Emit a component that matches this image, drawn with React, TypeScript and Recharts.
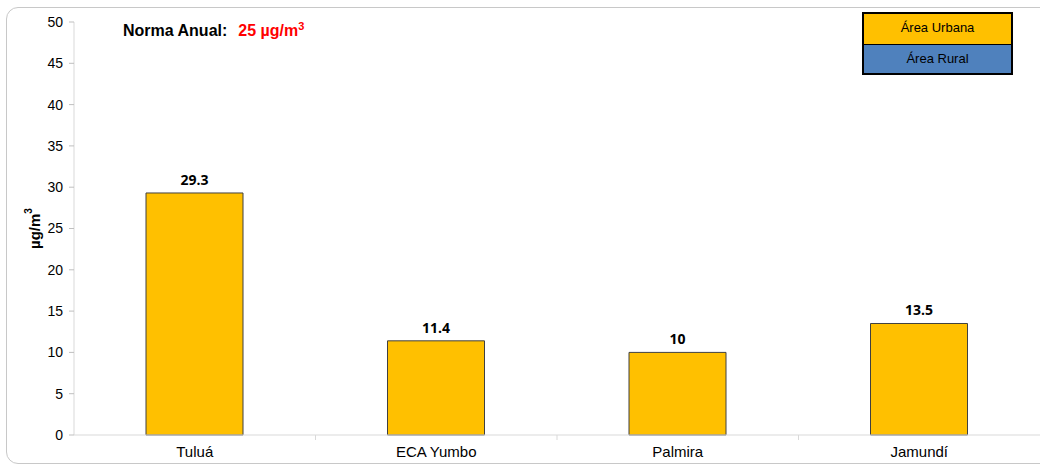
import React from 'react';
import { BarChart, Bar, XAxis, YAxis, LabelList } from 'recharts';

const categories = ['Tuluá', 'ECA Yumbo', 'Palmira', 'Jamundí'];
const values = [29.3, 11.4, 10, 13.5];
const yTicks = [0, 5, 10, 15, 20, 25, 30, 35, 40, 45, 50];
const legendLabels = ['Área Urbana', 'Área Rural'];
const legendColors = ['#FFC000', '#4F81BD'];

const data = categories.map((c, i) => ({ name: c, value: values[i] }));

const FONT = '"Liberation Sans", Arial, sans-serif';

const XTick = (props: any) => {
  const { x, y, payload, index } = props;
  const off = payload && payload.offset ? payload.offset : 0;
  return (
    <g>
      {index > 0 && (
        <line x1={x - off} x2={x - off} y1={y - 8} y2={y - 3} stroke="#d9d9d9" strokeWidth={1} />
      )}
      <text x={x} y={y + 14} textAnchor="middle" fontFamily={FONT} fontSize={15} fill="#000">
        {payload.value}
      </text>
    </g>
  );
};

const YLabel = (props: any) => {
  const vb = props.viewBox || {};
  const cx = 34;
  const cy = vb.y + vb.height / 2;
  return (
    <text
      x={cx}
      y={cy}
      transform={`rotate(-90 ${cx} ${cy})`}
      textAnchor="middle"
      dominantBaseline="central"
      fontFamily={FONT}
      fontSize={15}
      fontWeight="bold"
      fill="#000"
    >
      µg/m
      <tspan fontSize={10} dy={-6}>3</tspan>
    </text>
  );
};

export default function App() {
  return (
    <div style={{ position: 'absolute', left: 0, top: 0, width: 1040, height: 468, background: '#fff', overflow: 'hidden' }}>
      <div
        style={{
          position: 'absolute',
          left: 6,
          top: 7,
          width: 1060,
          height: 457,
          border: '1px solid #c8c8c8',
          borderRadius: 12,
          boxSizing: 'border-box',
        }}
      />
      <BarChart
        width={1040}
        height={468}
        data={data}
        margin={{ top: 22, right: 0, left: 2, bottom: 0 }}
        barCategoryGap="30%"
      >
        <XAxis
          dataKey="name"
          height={33}
          axisLine={{ stroke: '#d9d9d9' }}
          tickLine={false}
          tick={<XTick />}
          interval={0}
        />
        <YAxis
          width={72}
          domain={[0, 50]}
          ticks={yTicks}
          interval={0}
          axisLine={{ stroke: '#d9d9d9' }}
          tickLine={{ stroke: '#bfbfbf' }}
          tickSize={5}
          tickMargin={6}
          tick={{ fontFamily: FONT, fontSize: 14, fill: '#000' }}
          label={<YLabel />}
        />
        <Bar dataKey="value" fill="#FFC000" stroke="#404040" strokeWidth={1} isAnimationActive={false} barSize={97}>
          <LabelList
            dataKey="value"
            position="top"
            offset={8}
            style={{ fontFamily: '"Open Sans", sans-serif', fontSize: 14, fontWeight: 'bold', fill: '#000' }}
          />
        </Bar>
      </BarChart>
      <div
        style={{
          position: 'absolute',
          left: 123,
          top: 22,
          fontFamily: FONT,
          fontSize: 16,
          fontWeight: 'bold',
          color: '#000',
          whiteSpace: 'nowrap',
        }}
      >
        Norma Anual:
        <span style={{ color: '#FF0000', marginLeft: 11 }}>
          25 µg/m<sup style={{ fontSize: 11, verticalAlign: 'super', lineHeight: 0 }}>3</sup>
        </span>
      </div>
      <div
        style={{
          position: 'absolute',
          left: 862,
          top: 12,
          width: 151,
          border: '2px solid #000',
          boxSizing: 'border-box',
          fontFamily: FONT,
          fontSize: 13,
        }}
      >
        {legendLabels.map((l, i) => (
          <div
            key={l}
            style={{
              background: legendColors[i],
              height: i === 0 ? 30 : 29,
              lineHeight: '28px',
              textAlign: 'center',
              borderTop: i > 0 ? '1px solid #000' : 'none',
              boxSizing: 'border-box',
              color: '#000',
            }}
          >
            {l}
          </div>
        ))}
      </div>
    </div>
  );
}
